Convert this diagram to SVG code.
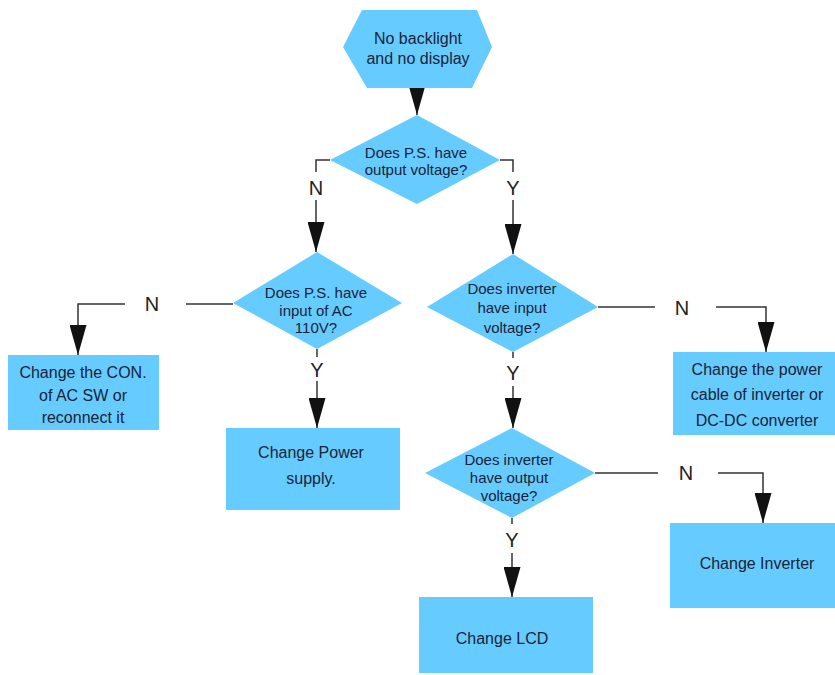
<svg xmlns="http://www.w3.org/2000/svg" width="835" height="675" viewBox="0 0 835 675">
<defs>
<style>
.shape{fill:#66ccff;stroke:none}
.t{font-family:"Liberation Sans",Arial,sans-serif;font-size:15px;fill:#1b2238;text-anchor:middle;dominant-baseline:central}
.tb{font-size:16px}
.lbl{font-family:"Liberation Sans",Arial,sans-serif;font-size:20px;fill:#222;text-anchor:middle;dominant-baseline:central}
.c{fill:none;stroke:#333;stroke-width:1.5}
.a{marker-end:url(#arr)}
</style>
<marker id="arr" markerUnits="userSpaceOnUse" viewBox="0 0 30 17" markerWidth="30" markerHeight="17" refX="30" refY="8.5" orient="auto">
<path d="M0,0 L30,8.5 L0,17 Z" fill="#111"/>
</marker>
</defs>
<rect width="835" height="675" fill="#fff"/>
<g id="connectors">
<path class="c a" d="M417,88 V115"/>
<path class="c" d="M330,160 H316 V172"/>
<path class="c a" d="M316,200 V252"/>
<path class="c" d="M500,160 H513 V172"/>
<path class="c a" d="M513,200 V254"/>
<path class="c" d="M233,304 H186"/>
<path class="c a" d="M125,304 H78 V355"/>
<path class="c" d="M317,349 V357"/>
<path class="c a" d="M317,381 V428"/>
<path class="c" d="M598,307 H655"/>
<path class="c a" d="M716,307 H766 V352"/>
<path class="c" d="M513,352 V358"/>
<path class="c a" d="M513,386 V428"/>
<path class="c" d="M595,473 H658"/>
<path class="c a" d="M718,473 H763 V523"/>
<path class="c" d="M512,518 V524"/>
<path class="c a" d="M512,553 V597"/>
<text class="lbl" x="316" y="188">N</text>
<text class="lbl" x="513" y="188">Y</text>
<text class="lbl" x="152" y="304">N</text>
<text class="lbl" x="317" y="370">Y</text>
<text class="lbl" x="682" y="308">N</text>
<text class="lbl" x="513" y="373">Y</text>
<text class="lbl" x="686" y="473">N</text>
<text class="lbl" x="512" y="540">Y</text>
</g>
<g id="start">
<polygon class="shape" points="362,10 477,10 492,47 472,88 367,88 343,47"/>
<text class="t tb" x="418" y="38">No backlight</text>
<text class="t tb" x="418" y="58">and no display</text>
</g>
<g id="d1">
<polygon class="shape" points="417,115 500,160 417,204 330,160"/>
<text class="t" x="416" y="152">Does P.S. have</text>
<text class="t" x="416" y="169">output voltage?</text>
</g>
<g id="d2">
<polygon class="shape" points="317,252 402,303 317,349 233,303"/>
<text class="t" x="316" y="292">Does P.S. have</text>
<text class="t" x="316" y="310">input of AC</text>
<text class="t" x="316" y="327">110V?</text>
</g>
<g id="d3">
<polygon class="shape" points="513,254 598,307 513,352 427,307"/>
<text class="t" x="512" y="288">Does inverter</text>
<text class="t" x="512" y="307">have input</text>
<text class="t" x="512" y="327">voltage?</text>
</g>
<g id="d4">
<polygon class="shape" points="512,428 595,473 512,518 425,473"/>
<text class="t" x="509" y="459">Does inverter</text>
<text class="t" x="509" y="477">have output</text>
<text class="t" x="509" y="495">voltage?</text>
</g>
<g id="b1">
<rect class="shape" x="8" y="355" width="151" height="75"/>
<text class="t tb" x="83" y="372">Change the CON.</text>
<text class="t tb" x="83" y="395">of AC SW or</text>
<text class="t tb" x="83" y="417">reconnect it</text>
</g>
<g id="b2">
<rect class="shape" x="226" y="428" width="174" height="82"/>
<text class="t tb" x="311" y="452">Change Power</text>
<text class="t tb" x="311" y="478">supply.</text>
</g>
<g id="b3">
<rect class="shape" x="673" y="352" width="162" height="83"/>
<text class="t tb" x="757" y="369">Change the power</text>
<text class="t tb" x="757" y="394">cable of inverter or</text>
<text class="t tb" x="757" y="420">DC-DC converter</text>
</g>
<g id="b4">
<rect class="shape" x="670" y="523" width="165" height="85"/>
<text class="t tb" x="757" y="563">Change Inverter</text>
</g>
<g id="b5">
<rect class="shape" x="419" y="597" width="174" height="76"/>
<text class="t tb" x="502" y="638">Change LCD</text>
</g>
</svg>
